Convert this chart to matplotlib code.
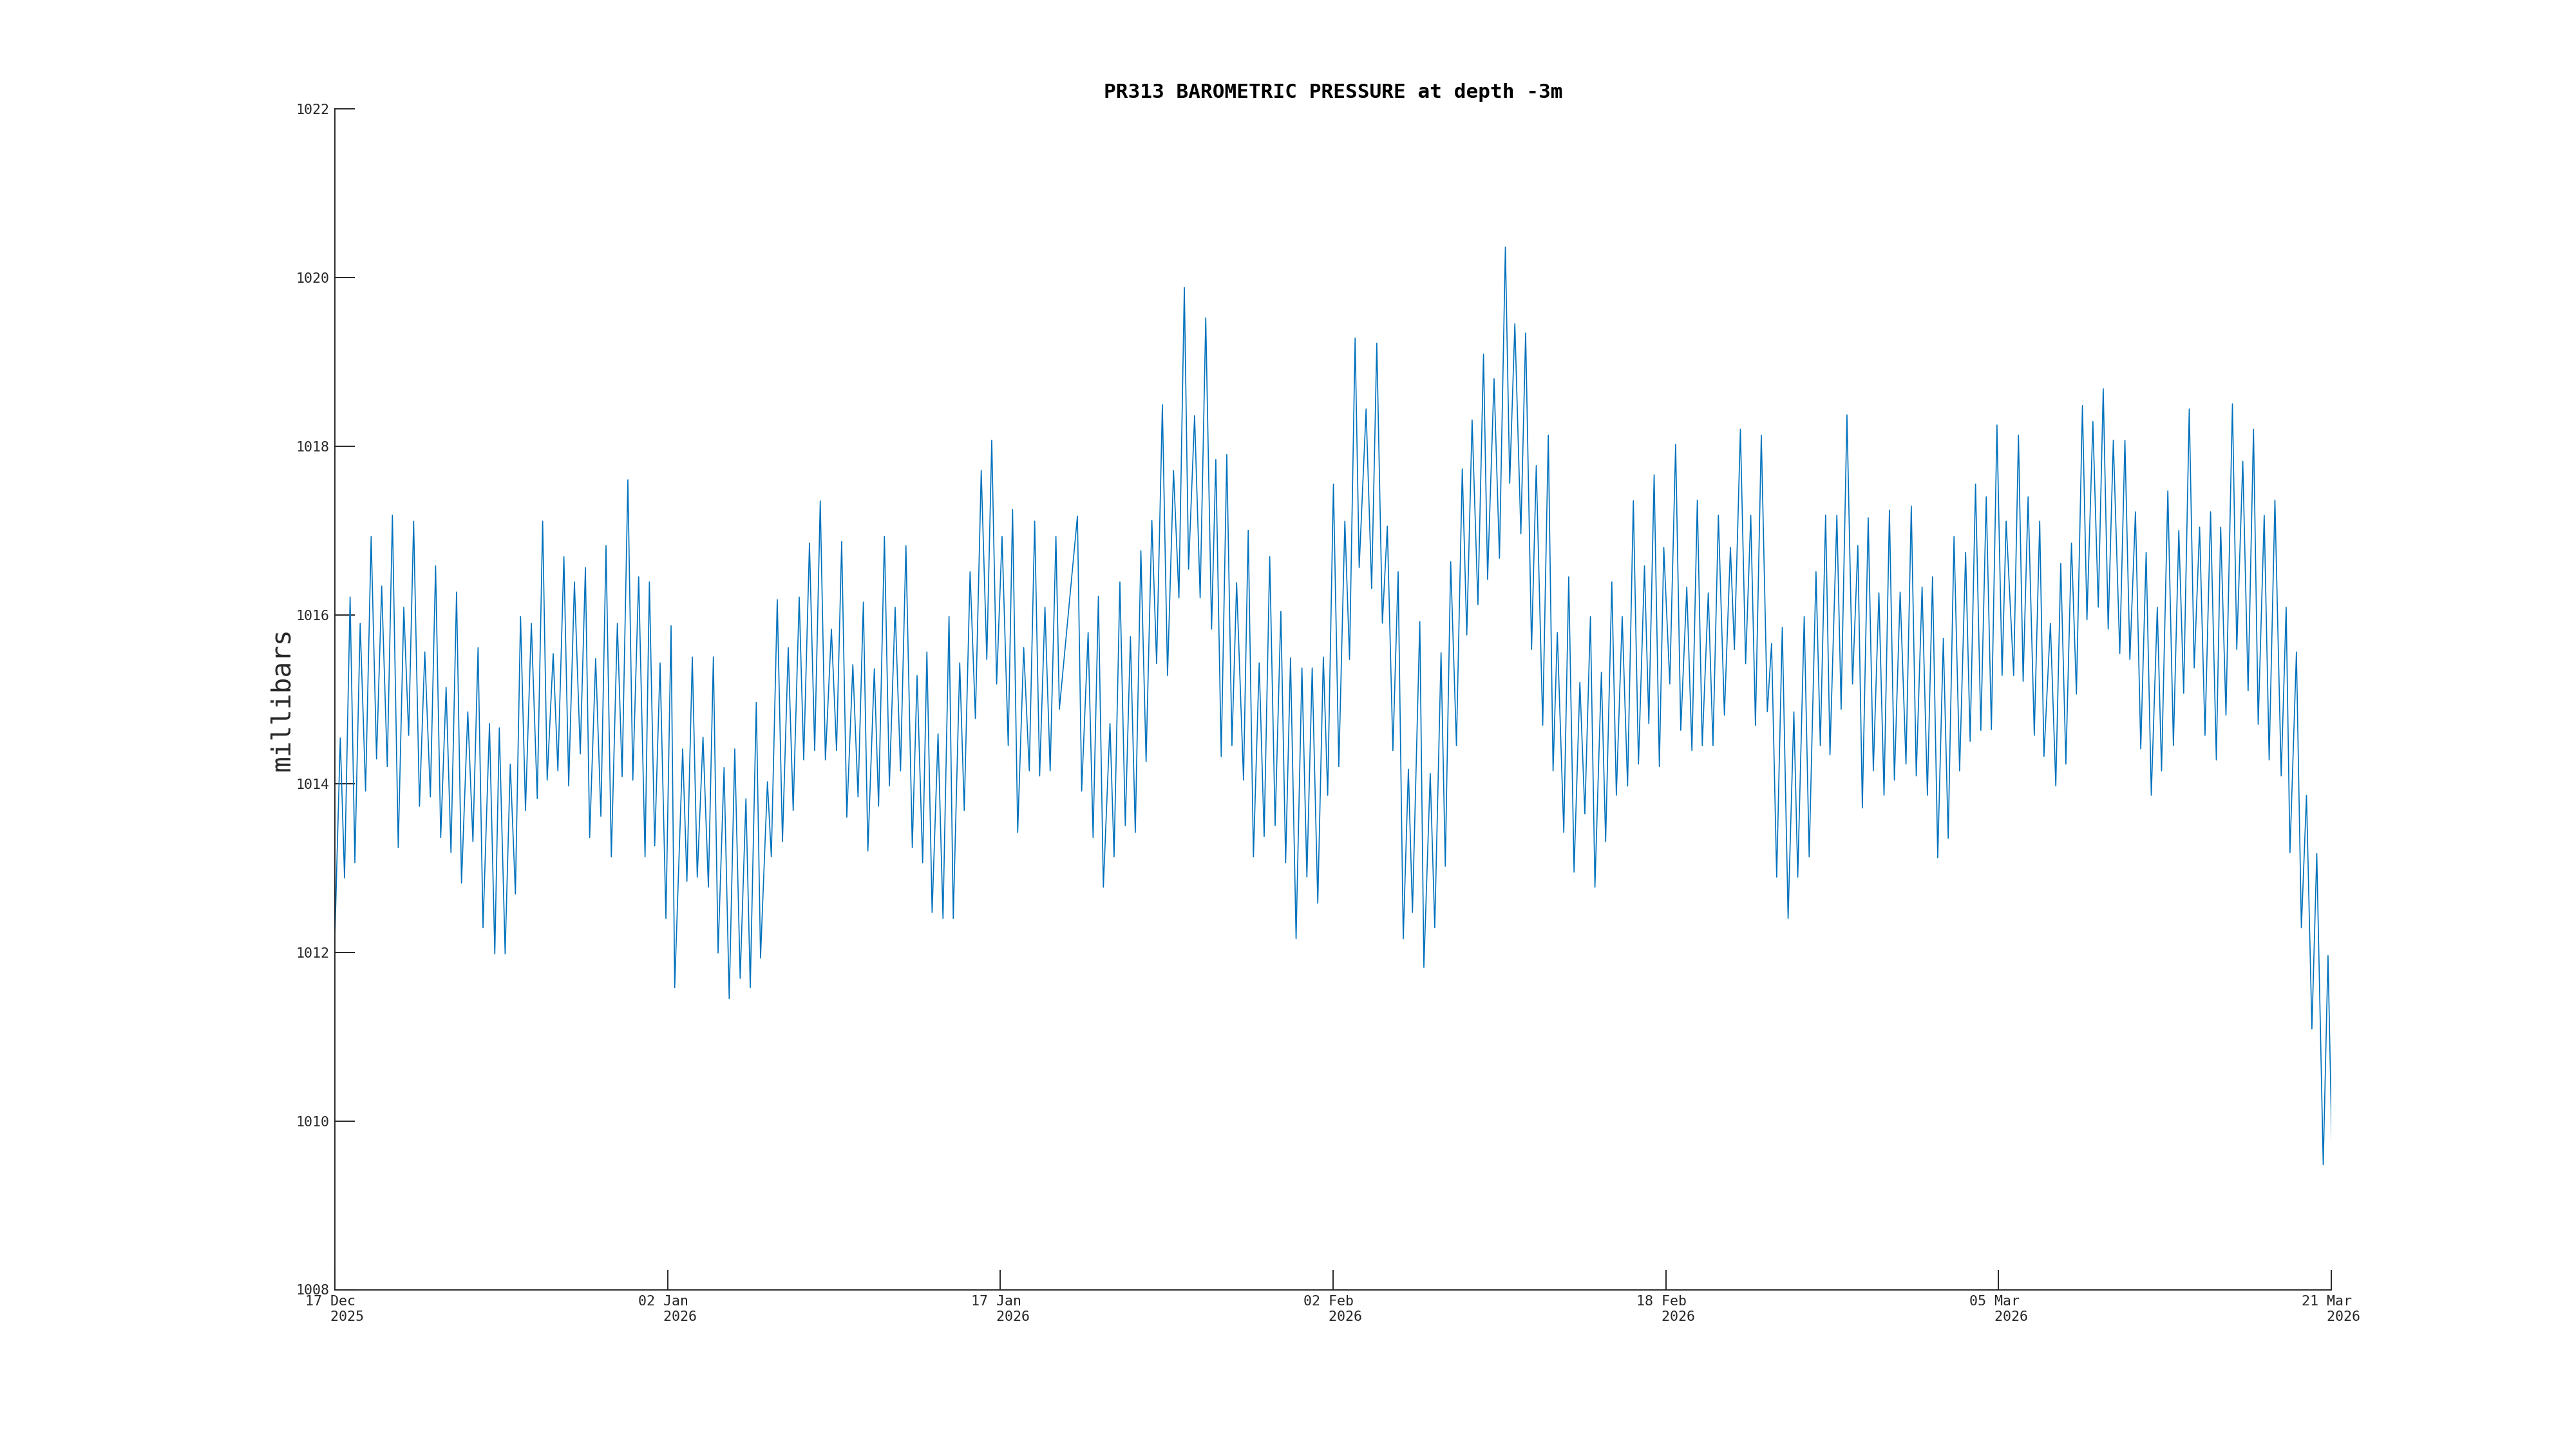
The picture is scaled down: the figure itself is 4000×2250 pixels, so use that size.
import datetime as dt
import numpy as np
import matplotlib
matplotlib.use("Agg")
import matplotlib.pyplot as plt

# ---- data: hours since 17 Dec 2025 08:00 and barometric pressure (mb) ----
h1 = [0, 6.1, 10.9, 17.2, 22.6, 28.6, 34.7, 41.0, 47.1, 52.9, 59.2, 65.0, 71.6, 77.9, 83.4,
      89.0, 95.6, 101.6, 107.9, 113.8, 119.6, 125.7, 131.2, 137.5, 143.1, 150.2, 156.0, 161.8,
      167.4, 174.7, 180.7, 185.8, 192.4, 198.2, 204.0, 209.8, 215.4, 222.0]
p1 = [1012.18, 1014.54, 1012.88, 1016.21, 1013.06, 1015.90, 1013.91, 1016.93, 1014.29, 1016.34,
      1014.20, 1017.18, 1013.24, 1016.09, 1014.57, 1017.11, 1013.73, 1015.56, 1013.84, 1016.58,
      1013.36, 1015.14, 1013.18, 1016.27, 1012.82, 1014.85, 1013.31, 1015.61, 1012.29, 1014.71,
      1011.98, 1014.66, 1011.98, 1014.23, 1012.69, 1015.98, 1013.68, 1015.90]

h2 = [228.7, 234.8, 239.9, 246.7, 252.0, 258.8, 264.2, 270.7, 277.3, 283.1, 287.9, 294.7, 300.6,
      306.4, 312.4, 319.2, 324.6, 331.1, 336.7, 343.3, 350.5, 355.4, 361.4, 367.5, 374.1, 379.9,
      384.0, 393.0, 397.8, 403.9, 409.5, 416.0, 422.1, 427.7, 433.0, 439.8, 445.6]
p2 = [1013.82, 1017.11, 1014.04, 1015.54, 1014.15, 1016.69, 1013.97, 1016.39, 1014.35, 1016.56,
      1013.36, 1015.48, 1013.61, 1016.82, 1013.13, 1015.90, 1014.08, 1017.60, 1014.04, 1016.45,
      1013.13, 1016.39, 1013.26, 1015.43, 1012.40, 1015.87, 1011.58, 1014.41, 1012.84, 1015.50,
      1012.89, 1014.55, 1012.77, 1015.50, 1011.99, 1014.19, 1011.45]

h3 = [451.9, 458.0, 464.5, 469.4, 476.2, 481.0, 488.8, 493.2, 499.9, 505.8, 512.3, 517.9, 524.7,
      529.8, 536.3, 542.2, 548.5, 554.3, 561.1, 566.9, 572.7, 578.5, 585.3, 591.2, 597.2, 602.3,
      609.6, 614.4, 621.0, 626.6, 633.1, 639.2, 645.3, 652.5, 657.9, 664.2, 669.0, 674.9]
p3 = [1014.41, 1011.69, 1013.82, 1011.58, 1014.96, 1011.93, 1014.02, 1013.13, 1016.18, 1013.31,
      1015.61, 1013.68, 1016.21, 1014.28, 1016.85, 1014.39, 1017.35, 1014.28, 1015.83, 1014.39,
      1016.87, 1013.60, 1015.41, 1013.84, 1016.15, 1013.20, 1015.36, 1013.73, 1016.93, 1013.97,
      1016.09, 1014.15, 1016.82, 1013.24, 1015.28, 1013.06, 1015.56, 1012.47]

h4 = [681.6, 687.2, 694.0, 698.8, 706.1, 711.2, 717.8, 723.8, 730.4, 736.7, 742.3, 747.8, 753.9,
      760.9, 765.8, 771.6, 778.4, 784.7, 790.8, 796.4, 802.4, 808.3, 814.8, 818.7, 839.1, 843.9,
      851.2, 856.8, 862.8, 868.4, 875.9, 880.5, 887.1, 893.2, 899.0]
p4 = [1014.59, 1012.40, 1015.98, 1012.40, 1015.43, 1013.68, 1016.51, 1014.77, 1017.71, 1015.47,
      1018.07, 1015.18, 1016.93, 1014.45, 1017.25, 1013.42, 1015.61, 1014.15, 1017.11, 1014.09,
      1016.09, 1014.15, 1016.93, 1014.88, 1017.17, 1013.91, 1015.79, 1013.36, 1016.22, 1012.77,
      1014.71, 1013.13, 1016.39, 1013.50, 1015.74]

h5 = [904.5, 910.8, 916.7, 923.2, 928.6, 935.1, 940.9, 947.7, 953.8, 959.9, 964.7, 971.5, 977.8,
      984.1, 990.7, 995.5, 1001.6, 1007.9, 1013.7, 1019.0, 1026.8, 1032.1, 1038.0, 1044.5, 1050.1,
      1056.4, 1062.5, 1069.0, 1074.4, 1079.9, 1086.2, 1092.8, 1098.4, 1104.4, 1110.7, 1117.0, 1121.9]
p5 = [1013.42, 1016.76, 1014.26, 1017.12, 1015.42, 1018.49, 1015.28, 1017.71, 1016.20, 1019.88,
      1016.54, 1018.36, 1016.20, 1019.52, 1015.83, 1017.84, 1014.32, 1017.90, 1014.45, 1016.38,
      1014.04, 1017.00, 1013.13, 1015.43, 1013.37, 1016.69, 1013.50, 1016.04, 1013.06, 1015.49,
      1012.16, 1015.37, 1012.89, 1015.37, 1012.58, 1015.50, 1013.86]

h6 = [1128.4, 1134.5, 1141.3, 1146.6, 1152.9, 1157.5, 1165.3, 1171.6, 1177.4, 1183.7, 1189.3,
      1195.6, 1201.5, 1207.3, 1213.1, 1217.7, 1226.0, 1230.6, 1237.8, 1242.9, 1250.0, 1254.8,
      1260.9, 1267.4, 1274.0, 1279.1, 1285.1, 1291.7, 1298.0, 1302.6, 1309.9, 1316.0, 1322.7,
      1327.6, 1333.4, 1340.2, 1345.6, 1352.3]
p6 = [1017.55, 1014.20, 1017.11, 1015.47, 1019.28, 1016.56, 1018.44, 1016.31, 1019.22, 1015.90,
      1017.05, 1014.39, 1016.51, 1012.16, 1014.17, 1012.47, 1015.92, 1011.82, 1014.12, 1012.29,
      1015.55, 1013.02, 1016.63, 1014.45, 1017.73, 1015.76, 1018.31, 1016.12, 1019.09, 1016.42,
      1018.80, 1016.67, 1020.36, 1017.56, 1019.45, 1016.96, 1019.34, 1015.59]

h7 = [1357.6, 1364.9, 1371.2, 1376.6, 1381.4, 1388.7, 1394.3, 1400.3, 1406.9, 1412.5, 1418.8,
      1423.9, 1431.2, 1436.0, 1443.0, 1448.1, 1454.7, 1460.8, 1467.3, 1473.1, 1479.9, 1484.8,
      1490.8, 1496.7, 1501.7, 1508.5, 1515.1, 1520.9, 1527.7, 1533.5, 1539.6, 1545.2, 1552.0,
      1557.3, 1563.4, 1570.2, 1577.0]
p7 = [1017.77, 1014.69, 1018.13, 1014.15, 1015.79, 1013.42, 1016.45, 1012.95, 1015.20, 1013.64,
      1015.98, 1012.77, 1015.32, 1013.31, 1016.39, 1013.86, 1015.98, 1013.97, 1017.35, 1014.23,
      1016.58, 1014.71, 1017.66, 1014.20, 1016.80, 1015.18, 1018.02, 1014.63, 1016.33, 1014.39,
      1017.36, 1014.45, 1016.26, 1014.45, 1017.18, 1014.81, 1016.80]

h8 = [1581.5, 1588.3, 1594.2, 1600.0, 1605.3, 1611.9, 1618.7, 1623.5, 1629.3, 1635.6, 1642.2,
      1648.7, 1653.1, 1660.4, 1666.0, 1673.7, 1678.6, 1684.6, 1689.5, 1697.3, 1702.1, 1708.7,
      1715.0, 1721.0, 1726.1, 1732.7, 1738.5, 1744.8, 1750.6, 1756.7, 1762.3, 1768.8, 1775.4,
      1781.4, 1787.0, 1793.6, 1799.6]
p8 = [1015.59, 1018.20, 1015.42, 1017.18, 1014.69, 1018.13, 1014.85, 1015.66, 1012.89, 1015.85,
      1012.40, 1014.85, 1012.89, 1015.98, 1013.13, 1016.51, 1014.45, 1017.18, 1014.34, 1017.18,
      1014.88, 1018.37, 1015.18, 1016.82, 1013.71, 1017.15, 1014.15, 1016.26, 1013.86, 1017.24,
      1014.04, 1016.27, 1014.23, 1017.29, 1014.09, 1016.33, 1013.86]

h9 = [1805.4, 1811.3, 1817.6, 1823.1, 1829.7, 1836.0, 1842.8, 1847.9, 1854.0, 1860.0, 1866.1,
      1871.9, 1878.2, 1884.0, 1888.6, 1897.1, 1902.5, 1907.8, 1913.4, 1920.4, 1926.5, 1931.3,
      1938.6, 1944.7, 1950.3, 1956.1, 1962.4, 1968.0, 1974.8, 1979.9, 1986.6, 1992.7, 1998.3,
      2003.9, 2009.7, 2017.0, 2022.8, 2028.4]
p9 = [1016.45, 1013.12, 1015.72, 1013.35, 1016.93, 1014.15, 1016.74, 1014.50, 1017.55, 1014.63,
      1017.40, 1014.64, 1018.25, 1015.28, 1017.11, 1015.28, 1018.13, 1015.21, 1017.40, 1014.57,
      1017.11, 1014.32, 1015.90, 1013.97, 1016.61, 1014.23, 1016.85, 1015.06, 1018.48, 1015.94,
      1018.29, 1016.09, 1018.68, 1015.83, 1018.07, 1015.54, 1018.07, 1015.47]

h10 = [2034.7, 2040.7, 2046.8, 2052.6, 2059.4, 2064.2, 2071.3, 2077.6, 2083.7, 2089.2, 2095.5,
       2101.1, 2107.2, 2113.3, 2119.6, 2126.1, 2131.0, 2137.0, 2144.3, 2149.2, 2156.0, 2162.0,
       2168.1, 2173.4, 2180.2, 2185.8, 2192.3, 2199.4, 2205.0, 2209.3, 2216.6, 2222.2, 2228.0,
       2234.1, 2239.6, 2246.9, 2252.3, 2256.6]
p10 = [1017.22, 1014.41, 1016.74, 1013.86, 1016.09, 1014.15, 1017.47, 1014.45, 1017.00, 1015.07,
       1018.44, 1015.37, 1017.04, 1014.57, 1017.22, 1014.28, 1017.04, 1014.81, 1018.50, 1015.59,
       1017.82, 1015.10, 1018.20, 1014.70, 1017.18, 1014.28, 1017.36, 1014.09, 1016.09, 1013.18,
       1015.56, 1012.29, 1013.86, 1011.09, 1013.17, 1009.48, 1011.96, 1009.75]

x_tick_labels = ["17 Dec\n   2025", "02 Jan\n   2026", "17 Jan\n   2026", "02 Feb\n   2026",
                 "18 Feb\n   2026", "05 Mar\n   2026", "21 Mar\n   2026"]
y_ticks = [1008, 1010, 1012, 1014, 1016, 1018, 1020, 1022]
title_text = "PR313 BAROMETRIC PRESSURE at depth -3m"
y_label = "millibars"

# ---- assemble ----
hours = np.concatenate([h1, h2, h3, h4, h5, h6, h7, h8, h9, h10])
press = np.concatenate([p1, p2, p3, p4, p5, p6, p7, p8, p9, p10])
start = dt.datetime(2025, 12, 17, 8, 0)
times = [start + dt.timedelta(hours=float(h)) for h in hours]
end = start + dt.timedelta(days=94)

mono = "DejaVu Sans Mono"
text_col = "#262626"

fig = plt.figure(figsize=(20, 11.25), dpi=200)
ax = fig.add_axes([0.13, 0.11, 0.775, 0.815])
ax.plot(times, press, color="#0072BD", lw=0.6)

ax.set_xlim(start, end)
ax.set_ylim(1008, 1022)
ax.set_yticks(y_ticks)
ax.set_yticklabels([str(v) for v in y_ticks])
xt = [start + (end - start) * k / 6 for k in range(7)]
ax.set_xticks(xt)
ax.set_xticklabels(x_tick_labels, multialignment="left")

for s in ["top", "right"]:
    ax.spines[s].set_visible(False)
for s in ["left", "bottom"]:
    ax.spines[s].set_color(text_col)
    ax.spines[s].set_linewidth(0.7)

ax.tick_params(direction="in", length=11, width=0.7, color=text_col,
               labelcolor=text_col, labelsize=7.8, pad=3)
for lab in ax.get_xticklabels() + ax.get_yticklabels():
    lab.set_family(mono)
for lab in ax.get_xticklabels():
    lab.set_linespacing(1.25)

ax.set_title(title_text, family=mono, fontweight="bold", fontsize=11.2, color="black", pad=6)
ax.set_ylabel(y_label, family=mono, fontsize=14.8, color=text_col)
ax.yaxis.set_label_coords(-0.02, 0.5)

fig.savefig("out.png", dpi=200, facecolor="white")
